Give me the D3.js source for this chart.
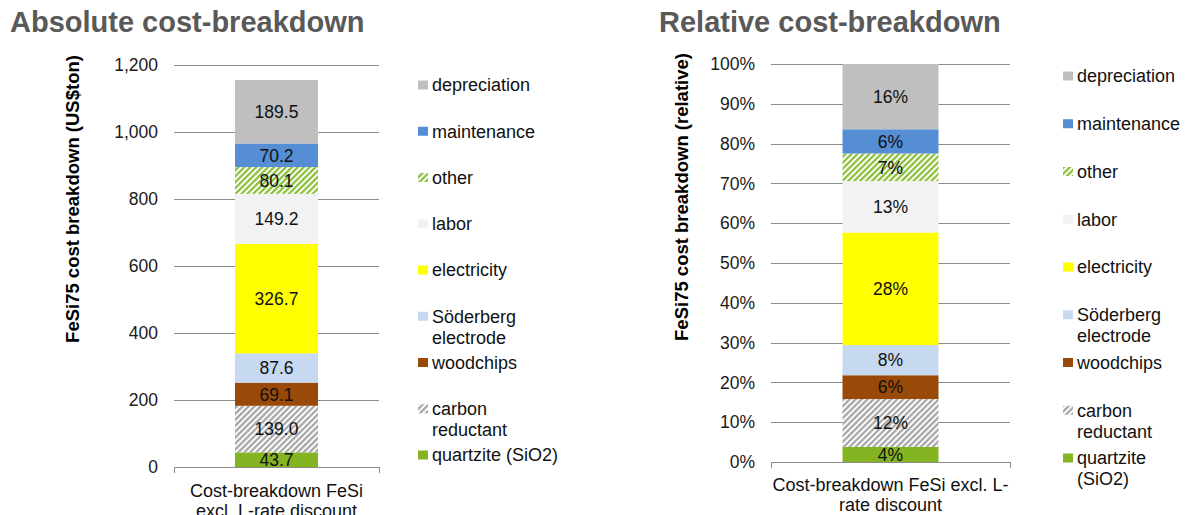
<!DOCTYPE html>
<html>
<head>
<meta charset="utf-8">
<script src="https://cdn.jsdelivr.net/npm/d3@7"></script>
<style>
  body { margin: 0; background: #fff; }
  svg { display: block; font-family: "Liberation Sans", Arial, sans-serif; }
</style>
</head>
<body>
<svg id="chart" width="1189" height="515"></svg>
<script>
// ---- data ----
const categories = ["Cost-breakdown FeSi excl. L-rate discount"];
// stacked bottom → top
const seriesNames = ["quartzite (SiO2)", "carbon reductant", "woodchips", "Söderberg electrode",
                     "electricity", "labor", "other", "maintenance", "depreciation"];
const seriesValues = [43.7, 139.0, 69.1, 87.6, 326.7, 149.2, 80.1, 70.2, 189.5];
const absTicks = [0, 200, 400, 600, 800, 1000, 1200];
const relTicks = [0, 0.1, 0.2, 0.3, 0.4, 0.5, 0.6, 0.7, 0.8, 0.9, 1.0];

// wrapped text lines
const categoryLinesAbs = ["Cost-breakdown FeSi", "excl. L-rate discount"];
const categoryLinesRel = ["Cost-breakdown FeSi excl. L-", "rate discount"];
const legendLinesAbs = [["quartzite (SiO2)"], ["carbon", "reductant"], ["woodchips"], ["Söderberg", "electrode"],
                        ["electricity"], ["labor"], ["other"], ["maintenance"], ["depreciation"]];
const legendLinesRel = [["quartzite", "(SiO2)"], ["carbon", "reductant"], ["woodchips"], ["Söderberg", "electrode"],
                        ["electricity"], ["labor"], ["other"], ["maintenance"], ["depreciation"]];

// ---- styles ----
const fills = {
  "quartzite (SiO2)": "#84B422",
  "carbon reductant": "url(#hatchGray)",
  "woodchips": "#994A08",
  "Söderberg electrode": "#C6D9F1",
  "electricity": "#FFFF00",
  "labor": "#F2F2F2",
  "other": "url(#hatchGreen)",
  "maintenance": "#558ED5",
  "depreciation": "#BFBFBF"
};
const gridColor = "#8C8C8C";
const titleColor = "#595959";

const svg = d3.select("#chart");
const defs = svg.append("defs");
function hatch(id, color) {
  const p = defs.append("pattern")
    .attr("id", id).attr("patternUnits", "userSpaceOnUse")
    .attr("width", 4.2).attr("height", 4.2)
    .attr("patternTransform", "rotate(45)");
  p.append("rect").attr("width", 4.2).attr("height", 4.2).attr("fill", "#fff");
  p.append("rect").attr("width", 2.3).attr("height", 4.2).attr("fill", color);
}
hatch("hatchGreen", "#8DC03C");
hatch("hatchGray", "#A8A8A8");

// stacked data
const row = { category: categories[0] };
seriesNames.forEach((n, i) => row[n] = seriesValues[i]);
const total = d3.sum(seriesValues);

function drawChart(cfg) {
  const g = svg.append("g");
  const stack = d3.stack().keys(seriesNames);
  if (cfg.relative) stack.offset(d3.stackOffsetExpand);
  const layers = stack([row]);

  const x = d3.scaleBand().domain(categories).range([cfg.left, cfg.right])
    .paddingInner(0).paddingOuter(cfg.outerPad);
  const y = d3.scaleLinear().domain(cfg.domain).range([cfg.bottom, cfg.top]);

  // title
  g.append("text").attr("x", cfg.titleX).attr("y", 32)
    .attr("fill", titleColor).attr("font-weight", "bold").attr("font-size", 29)
    .text(cfg.title);

  // grid + tick labels
  const yAxis = d3.axisLeft(y).tickValues(cfg.ticks)
    .tickSize(-(cfg.right - cfg.left)).tickPadding(16)
    .tickFormat(cfg.tickFormat);
  const ga = g.append("g").attr("transform", `translate(${cfg.left},0)`).call(yAxis);
  ga.select(".domain").remove();
  ga.selectAll(".tick line").attr("stroke", gridColor).attr("stroke-width", 1)
    .attr("shape-rendering", "crispEdges");
  ga.selectAll(".tick text").attr("font-size", 17.5).attr("fill", "#1a1a1a")
    .attr("font-family", "'Liberation Sans', Arial, sans-serif");

  // y-axis title
  g.append("text")
    .attr("transform", `translate(${cfg.yTitleX},${cfg.yTitleY}) rotate(-90)`)
    .attr("text-anchor", "middle").attr("font-weight", "bold").attr("font-size", 18.5)
    .attr("fill", "#000").text(cfg.yTitle);

  // bars
  layers.forEach(layer => {
    const d = layer[0];
    g.append("rect")
      .attr("x", x(d.data.category)).attr("width", x.bandwidth())
      .attr("y", y(d[1])).attr("height", y(d[0]) - y(d[1]))
      .attr("fill", fills[layer.key]);
  });

  // value labels
  layers.forEach((layer, i) => {
    const d = layer[0];
    g.append("text")
      .attr("x", x(d.data.category) + x.bandwidth() / 2)
      .attr("y", (y(d[0]) + y(d[1])) / 2)
      .attr("dy", "0.36em").attr("text-anchor", "middle")
      .attr("font-size", 17.5).attr("fill", "#111")
      .text(cfg.relative ? d3.format(".0%")(seriesValues[i] / total) : d3.format(".1f")(seriesValues[i]));
  });

  // x baseline with end ticks
  const xAxis = d3.axisBottom(d3.scaleLinear().domain([0, 1]).range([cfg.left, cfg.right]))
    .tickValues([0, 1]).tickSize(6).tickFormat("");
  const gx = g.append("g").attr("transform", `translate(0,${cfg.bottom})`).call(xAxis);
  gx.select(".domain").attr("stroke", gridColor).attr("d", `M${cfg.left},0H${cfg.right}`)
    .attr("shape-rendering", "crispEdges");
  gx.selectAll(".tick line").attr("stroke", gridColor).attr("shape-rendering", "crispEdges");

  // category label
  const cx = x(categories[0]) + x.bandwidth() / 2;
  cfg.catLines.forEach((t, i) => {
    g.append("text").attr("x", cx).attr("y", cfg.catY + i * cfg.catStep)
      .attr("text-anchor", "middle").attr("font-size", 18).attr("fill", "#111").text(t);
  });

  // legend (top entry = last series)
  const order = seriesNames.map((n, i) => i).reverse();
  order.forEach((si, k) => {
    const cy = cfg.legTop + k * cfg.legStep;
    g.append("rect").attr("x", cfg.legX).attr("y", cy - 4.5)
      .attr("width", 10).attr("height", 9).attr("fill", fills[seriesNames[si]]);
    cfg.legLines[si].forEach((t, j) => {
      g.append("text").attr("x", cfg.legX + 14).attr("y", cy + j * 21)
        .attr("dy", "0.36em").attr("font-size", 18).attr("fill", "#111").text(t);
    });
  });
}

drawChart({
  relative: false, title: "Absolute cost-breakdown", titleX: 10,
  left: 174, right: 379, top: 65, bottom: 467, domain: [0, 1200], outerPad: 0.735,
  ticks: absTicks, tickFormat: d3.format(","),
  yTitle: "FeSi75 cost breakdown (US$ton)", yTitleX: 79, yTitleY: 199,
  catLines: categoryLinesAbs, catY: 497, catStep: 20,
  legX: 418, legTop: 85, legStep: 46.25, legLines: legendLinesAbs
});

drawChart({
  relative: true, title: "Relative cost-breakdown", titleX: 659,
  left: 771, right: 1010, top: 64, bottom: 462, domain: [0, 1], outerPad: 0.745,
  ticks: relTicks, tickFormat: d3.format(".0%"),
  yTitle: "FeSi75 cost breakdown (relative)", yTitleX: 688, yTitleY: 197,
  catLines: categoryLinesRel, catY: 491, catStep: 20,
  legX: 1063, legTop: 76, legStep: 47.75, legLines: legendLinesRel
});
</script>
</body>
</html>
